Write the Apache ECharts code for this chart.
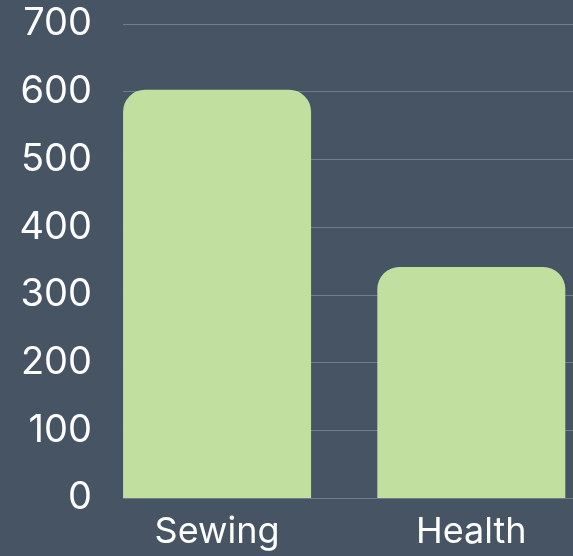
<!DOCTYPE html>
<html><head><meta charset="utf-8">
<style>html,body{margin:0;padding:0;background:#465464;}#c{width:573px;height:556px;}</style>
<script src="https://cdn.jsdelivr.net/npm/echarts@6/dist/echarts.min.js"></script>
</head><body><div id="c"></div>
<script>
const categories = ['Sewing', 'Health'];
const values = [603, 341];
const yTicks = [0, 100, 200, 300, 400, 500, 600, 700];

const chart = echarts.init(document.getElementById('c'));
const positions = categories.map((c, i) => i);
chart.setOption({
  backgroundColor: '#465464',
  animation: false,
  grid: { left: 123, right: 0, top: 24, bottom: 58, containLabel: false },
  xAxis: {
    type: 'value', min: -0.37, max: 1.4,
    splitLine: { show: false },
    axisLine: { show: false },
    axisTick: { show: false },
    axisLabel: {
      customValues: positions,
      formatter: v => categories[Math.round(v)] || '',
      color: '#ffffff', fontSize: 36, fontFamily: 'Inter', margin: 16
    }
  },
  yAxis: {
    type: 'value', min: 0, max: 700, interval: 100,
    axisLine: { show: false }, axisTick: { show: false },
    splitLine: { lineStyle: { color: '#6f7c89', width: 1 } },
    axisLabel: {
      customValues: yTicks,
      color: '#ffffff', fontSize: 38, fontFamily: 'Inter', margin: 31
    }
  },
  series: [{
    type: 'bar',
    barWidth: 188,
    data: values.map((v, i) => [positions[i], v]),
    itemStyle: { color: '#c1df9f', borderRadius: [22, 22, 0, 0] }
  }]
});
</script></body></html>
